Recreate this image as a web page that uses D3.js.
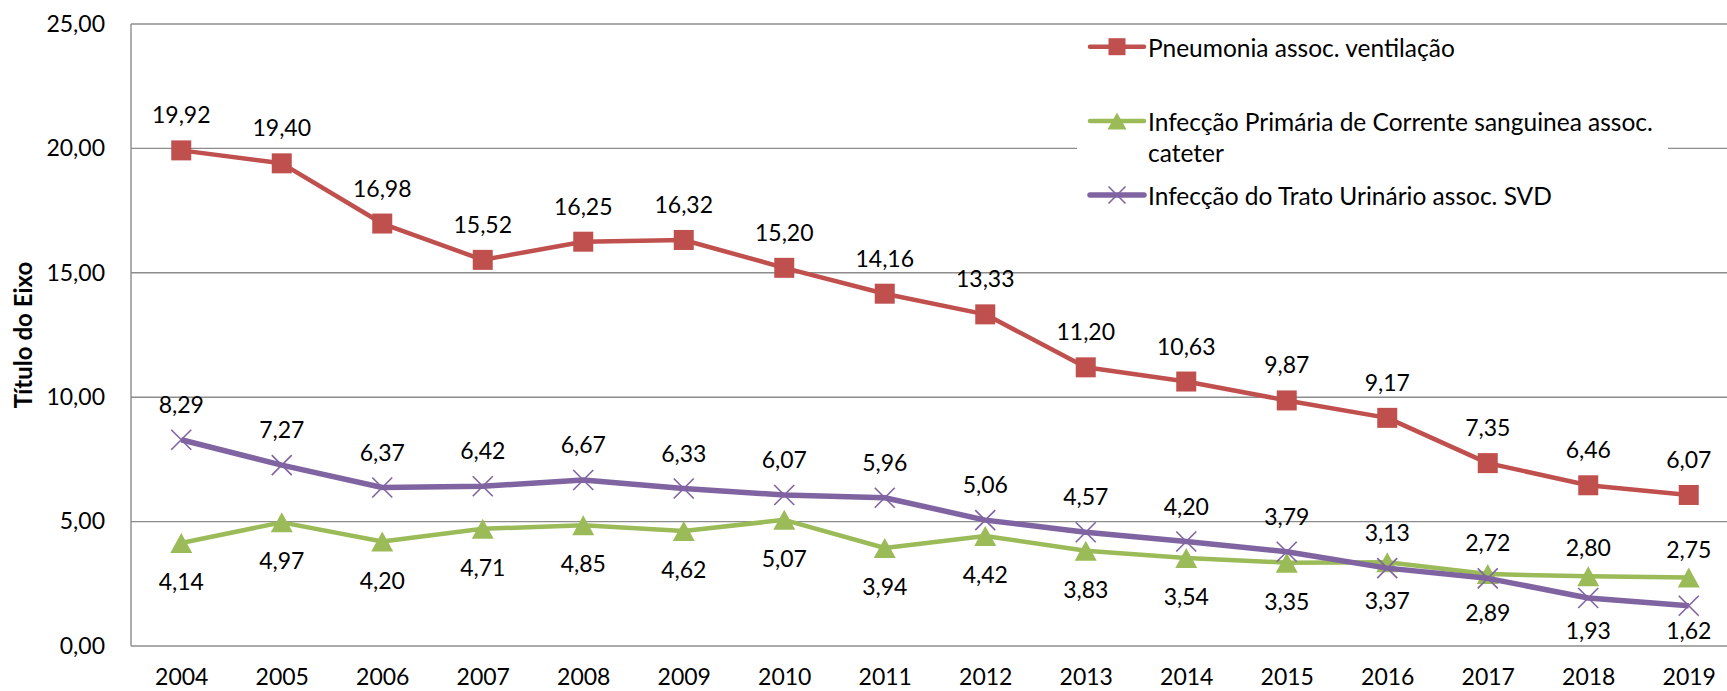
<!DOCTYPE html>
<html>
<head>
<meta charset="utf-8">
<script src="https://cdn.jsdelivr.net/npm/d3@7"></script>
<style>
  html, body { margin: 0; padding: 0; background: #fff; }
  svg { display: block; font-family: Lato, "Noto Sans", sans-serif; }
</style>
</head>
<body>
<svg id="chart" width="1727" height="691"></svg>
<script>
// ---- data ----
const years = ["2004","2005","2006","2007","2008","2009","2010","2011","2012","2013","2014","2015","2016","2017","2018","2019"];
const seriesNames = [
  "Pneumonia assoc. ventilação",
  "Infecção Primária de Corrente sanguinea assoc. cateter",
  "Infecção do Trato Urinário assoc. SVD"
];
const pneumonia = [19.92,19.40,16.98,15.52,16.25,16.32,15.20,14.16,13.33,11.20,10.63,9.87,9.17,7.35,6.46,6.07];
const ipcs      = [4.14,4.97,4.20,4.71,4.85,4.62,5.07,3.94,4.42,3.83,3.54,3.35,3.37,2.89,2.80,2.75];
const itu       = [8.29,7.27,6.37,6.42,6.67,6.33,6.07,5.96,5.06,4.57,4.20,3.79,3.13,2.72,1.93,1.62];
const yTicks = [0,5,10,15,20,25];
const axisTitle = "Título do Eixo";

// label placement (style only): "a" above, "b" below, "n" near-above
const pnPlace   = ["a","a","a","a","a","a","a","a","a","a","a","a","a","a","a","a"];
const ipcsPlace = ["b","b","b","b","b","b","b","b","b","b","b","b","b","b","n","n"];
const ituPlace  = ["a","a","a","a","a","a","a","a","a","a","a","a","a","a","b","b"];

// ---- layout ----
const svg = d3.select("#chart");
const W = 1727, H = 691;
const pLeft = 131, pRight = 1739, pTop = 24, pBottom = 646;
const numSize = 23;
const textSize = 24.5;
const grid = "#8c8c8c";
const ff = "Lato, 'Noto Sans', sans-serif";

const locale = d3.formatLocale({decimal: ",", thousands: ".", grouping: [3], currency: ["R$", ""]});
const fmt = locale.format(".2f");

const x = d3.scalePoint().domain(years).range([pLeft, pRight]).padding(0.5);
const y = d3.scaleLinear().domain([0, 25]).range([pBottom, pTop]);

// gridlines
svg.append("g").selectAll("line").data(yTicks.filter(d => d > 0)).join("line")
  .attr("x1", pLeft).attr("x2", W).attr("y1", d => y(d)).attr("y2", d => y(d))
  .attr("stroke", grid).attr("stroke-width", 1.4);

// axes lines
svg.append("line").attr("x1", pLeft).attr("x2", pLeft).attr("y1", pTop).attr("y2", pBottom)
  .attr("stroke", grid).attr("stroke-width", 1.4);
svg.append("line").attr("x1", pLeft).attr("x2", W).attr("y1", pBottom).attr("y2", pBottom)
  .attr("stroke", grid).attr("stroke-width", 1.4);

// y tick labels
const yAxis = d3.axisLeft(y).tickValues(yTicks).tickFormat(fmt).tickSize(0).tickPadding(26);
const gy = svg.append("g").attr("transform", `translate(${pLeft},0)`).call(yAxis);
gy.select(".domain").remove();
gy.selectAll("text").attr("font-size", numSize).attr("fill", "#000").attr("font-family", ff);

// x tick labels
const xAxis = d3.axisBottom(x).tickSize(0).tickPadding(23);
const gx = svg.append("g").attr("transform", `translate(0,${pBottom})`).call(xAxis);
gx.select(".domain").remove();
gx.selectAll("text").attr("font-size", numSize).attr("fill", "#000").attr("font-family", ff);

// axis title
svg.append("text")
  .attr("transform", `translate(22,${(pTop + pBottom) / 2}) rotate(-90)`)
  .attr("text-anchor", "middle").attr("dominant-baseline", "central")
  .attr("font-size", 24).attr("font-weight", "bold").attr("fill", "#000")
  .text(axisTitle);

// series
const series = [
  {name: seriesNames[0], values: pneumonia, place: pnPlace, color: "#C0504D", width: 4.5, marker: "square"},
  {name: seriesNames[1], values: ipcs, place: ipcsPlace, color: "#9BBB59", width: 4.5, marker: "triangle"},
  {name: seriesNames[2], values: itu, place: ituPlace, color: "#8064A2", width: 5.5, marker: "x"}
];

const line = d3.line().x((d, i) => x(years[i])).y(d => y(d));

function drawMarker(g, type, color, size) {
  if (type === "square") {
    g.append("rect").attr("x", -size/2).attr("y", -size/2).attr("width", size).attr("height", size)
      .attr("fill", color);
  } else if (type === "triangle") {
    const s = size;
    g.append("path").attr("d", `M0,${-s/2} L${s/2 + 1},${s/2} L${-s/2 - 1},${s/2} Z`).attr("fill", color);
  } else {
    const s = size / 2;
    g.append("path").attr("d", `M${-s},${-s} L${s},${s} M${-s},${s} L${s},${-s}`)
      .attr("stroke", color).attr("stroke-width", 1.6).attr("fill", "none");
  }
}

const plotG = svg.append("g");
series.forEach(s => {
  const g = plotG.append("g");
  g.append("path").datum(s.values).attr("d", line).attr("fill", "none")
    .attr("stroke", s.color).attr("stroke-width", s.width).attr("stroke-linejoin", "round");
  s.values.forEach((v, i) => {
    const mg = g.append("g").attr("transform", `translate(${x(years[i])},${y(v)})`);
    drawMarker(mg, s.marker, s.color, 20);
  });
});

// data labels (on top)
const labelG = svg.append("g");
series.forEach(s => {
  s.values.forEach((v, i) => {
    const p = s.place[i];
    let cy = y(v) + (p === "a" ? -36 : p === "n" ? -29 : 38);
    cy = Math.min(cy, pBottom - 16);
    labelG.append("text").attr("x", x(years[i])).attr("y", cy)
      .attr("text-anchor", "middle").attr("dominant-baseline", "central")
      .attr("font-size", numSize).attr("fill", "#000").text(fmt(v));
  });
});

// legend
const legend = svg.append("g");
legend.append("rect").attr("x", 1077).attr("y", 30).attr("width", 591).attr("height", 186).attr("fill", "#fff");
const legendRows = [46.7, 121, 195];
series.forEach((s, k) => {
  const ly = legendRows[k];
  const lg = legend.append("g").attr("transform", `translate(0,${ly})`);
  lg.append("line").attr("x1", 1090).attr("x2", 1144).attr("y1", 0).attr("y2", 0)
    .attr("stroke", s.color).attr("stroke-width", s.width).attr("stroke-linecap", "round");
  const mg = lg.append("g").attr("transform", "translate(1117,0)");
  drawMarker(mg, s.marker, s.color, 17);
  const t = lg.append("text").attr("x", 1148).attr("y", 0).attr("dominant-baseline", "central")
    .attr("font-size", textSize).attr("fill", "#000");
  // word-wrap to legend width
  const words = s.name.split(" ");
  let lineWords = [];
  let tspan = t.append("tspan").attr("x", 1148).attr("dy", 0);
  words.forEach(w => {
    lineWords.push(w);
    tspan.text(lineWords.join(" "));
    if (tspan.node().getComputedTextLength() > 540 && lineWords.length > 1) {
      lineWords.pop();
      tspan.text(lineWords.join(" "));
      lineWords = [w];
      tspan = t.append("tspan").attr("x", 1148).attr("dy", 31).text(w);
    }
  });
});
</script>
</body>
</html>
